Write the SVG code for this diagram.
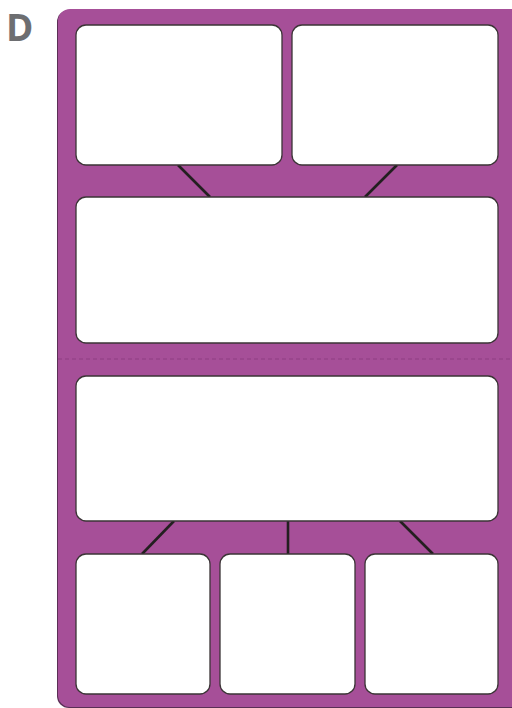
<svg xmlns="http://www.w3.org/2000/svg" width="512" height="708" viewBox="0 0 512 708">
<style>
.bg{fill:#A64F98}
.box{fill:#ffffff;stroke:#3b3536;stroke-width:1.3}
.conn{stroke:#231f20;stroke-width:2.6;fill:none}
.label{font-family:"Open Sans","Liberation Sans",sans-serif;font-weight:bold;font-size:37px;fill:#6d6e71}
</style>
<rect width="512" height="708" fill="#ffffff"/>
<text class="label" x="6" y="41">D</text>
<g id="panel">
<rect x="57" y="10" width="470" height="698" rx="12" fill="#5a2f55"/>
<rect class="bg" x="58" y="9" width="470" height="698" rx="12"/>
<line x1="58" y1="359" x2="512" y2="359" stroke="#8e3f82" stroke-width="1" stroke-dasharray="4,3"/>
</g>
<g id="connectors">
<line class="conn" x1="178" y1="165" x2="210" y2="197"/>
<line class="conn" x1="397" y1="165" x2="365" y2="197"/>
<line class="conn" x1="174" y1="521" x2="142" y2="554"/>
<line class="conn" x1="288" y1="521" x2="288" y2="554"/>
<line class="conn" x1="400" y1="521" x2="433" y2="554"/>
</g>
<g id="box1"><rect class="box" x="76" y="25" width="206" height="140" rx="10"/></g>
<g id="box2"><rect class="box" x="292" y="25" width="206" height="140" rx="10"/></g>
<g id="box3"><rect class="box" x="76" y="197" width="422" height="146" rx="10"/></g>
<g id="box4"><rect class="box" x="76" y="376" width="422" height="145" rx="10"/></g>
<g id="box5"><rect class="box" x="76" y="554" width="134" height="140" rx="10"/></g>
<g id="box6"><rect class="box" x="220" y="554" width="135" height="140" rx="10"/></g>
<g id="box7"><rect class="box" x="365" y="554" width="133" height="140" rx="10"/></g>
</svg>
